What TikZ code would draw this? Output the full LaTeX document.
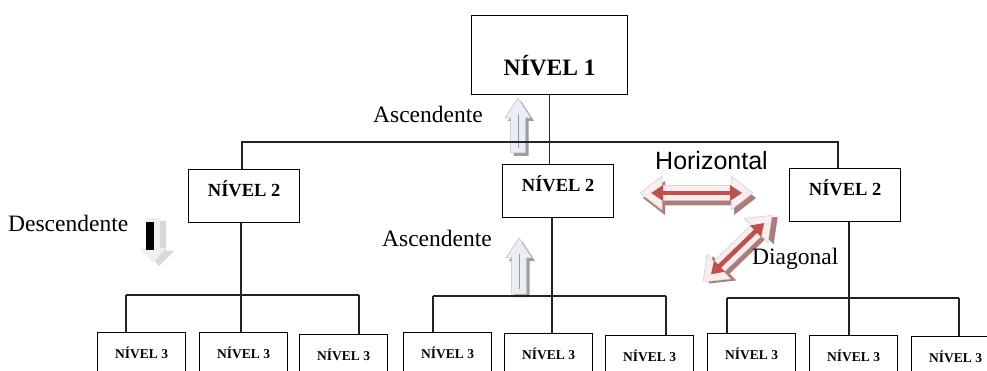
\documentclass[tikz,border=0pt]{standalone}
\usepackage{fontspec}
\setmainfont{Liberation Serif}
\newfontfamily\labelsans{Liberation Sans}
\usetikzlibrary{arrows.meta}
\definecolor{wireink}{RGB}{35,35,35}
\definecolor{flowred}{RGB}{192,80,77}
\definecolor{flowshade}{RGB}{172,124,122}
\definecolor{flowpale}{RGB}{247,238,237}
\definecolor{liftpale}{RGB}{234,238,244}
\definecolor{liftshade}{RGB}{155,157,163}
\definecolor{liftline}{RGB}{135,155,190}
\tikzset{
  box/.style={draw=black,line width=1.3pt,inner sep=0pt,fill=white,anchor=north west},
  lvlone/.style={box,minimum width=156pt,text height=60pt,text depth=19pt,font=\fontsize{23.5}{26}\selectfont\bfseries},
  lvltwo/.style={box,minimum width=111pt,text height=27pt,text depth=26pt,font=\fontsize{18.5}{21}\selectfont\bfseries},
  lvlthree/.style={box,minimum width=88pt,text height=26pt,text depth=22pt,font=\fontsize{13.5}{15}\selectfont\bfseries},
  wire/.style={draw=wireink,line width=1.2pt},
  tag/.style={inner sep=0pt,anchor=base west,font=\fontsize{23.5}{26}\selectfont},
  sanstag/.style={tag,font=\labelsans\fontsize{25}{28}\selectfont},
  % pale upward block arrow, tip at the origin
  pics/lift/.style={code={
    \fill[liftshade] (3,3) -- (16,23) -- (10.5,23) -- (10.5,{#1+3}) -- (-4.5,{#1+3}) -- (-4.5,23) -- (-10,23) -- cycle;
    \filldraw[fill=liftpale,draw=liftpale!80!black,line width=0.5pt] (0,0) -- (13,20) -- (7.5,20) -- (7.5,#1) -- (-7.5,#1) -- (-7.5,20) -- (-13,20) -- cycle;
    \draw[liftline,line width=0.8pt] (0,16) -- (0,{#1-5});
  }},
  % two-headed block arrow with a red arrow inside, left tip at the origin
  pics/twoway/.style={code={
    \begin{scope}[shift={(3,5)}]
      \fill[flowshade] (0,0) -- (22,-17) -- (22,-7.5) -- ({#1-22},-7.5) -- ({#1-22},-17) -- (#1,0)
        -- ({#1-22},17) -- ({#1-22},7.5) -- (22,7.5) -- (22,17) -- cycle;
    \end{scope}
    \filldraw[fill=flowpale,draw=flowpale!85!black,line width=0.5pt] (0,0) -- (22,-17) -- (22,-7.5) -- ({#1-22},-7.5) -- ({#1-22},-17) -- (#1,0)
        -- ({#1-22},17) -- ({#1-22},7.5) -- (22,7.5) -- (22,17) -- cycle;
    \draw[flowred,line width=4.5pt,{Triangle[length=12pt,width=15pt]}-{Triangle[length=12pt,width=15pt]}] (11,0) -- ({#1-11},0);
  }},
}

\begin{document}
\begin{tikzpicture}[x=1pt,y=-1pt]
\useasboundingbox (0,0) rectangle (987,371);
\clip (0,0) rectangle (987,371);
\fill[white] (0,0) rectangle (987,371);

% arrows and their labels
\path (518,98) pic {lift=55};
\path (519,238) pic {lift=56};
\fill[gray!30] (152,221) -- (166,221) -- (166,251) -- (174,251) -- (159,266) -- (145,251) -- (152,251) -- cycle;
\fill[gray!12] (146,218) -- (160,218) -- (160,248) -- (166,248) -- (153,263) -- (140,248) -- (146,248) -- cycle;
\fill[black] (146,222) rectangle (154,250);
\path (640,193) pic {twoway=113};
\path (703,282) pic[rotate=44] {twoway=96};

\node[tag] (ascup) at (373,123) {Ascendente};
\node[tag] (asclow) at (382,247) {Ascendente};
\node[tag] (desc) at (8,232) {Descendente};
\node[sanstag] (horiz) at (655,170) {Horizontal};
\node[tag] (diag) at (752,265) {Diagonal};

% hierarchy
\node[lvlone] (n1) at (471,15) {NÍVEL 1};
\node[lvltwo] (n2a) at (188,169) {NÍVEL 2};
\node[lvltwo] (n2b) at (502,164) {NÍVEL 2};
\node[lvltwo] (n2c) at (789,168) {NÍVEL 2};
\foreach \g/\i/\x/\y in {a/1/97/332,a/2/199/332,a/3/299/334,b/1/403/332,b/2/504/333,b/3/605/335,c/1/707/333,c/2/809/335,c/3/911/336}
  \node[lvlthree] (n3\g\i) at (\x,\y) {NÍVEL 3};

\coordinate (jl) at (242,142);
\coordinate (jr) at (838,142);
\draw[wire] (n1.south) -- (n1.south |- n2b.north);
\draw[wire] (jl |- n2a.north) -- (jl) -- (jr) -- (jr |- n2c.north);

\foreach \g/\i/\x/\y in {a/1/126/295,a/2/241/295,a/3/359/295,b/1/433/296,b/2/552/296,b/3/666/296,c/1/727/298,c/2/849/298,c/3/959/298} {
  \coordinate (d\g\i) at (\x,\y);
  \draw[wire] (d\g\i) -- (d\g\i |- n3\g\i.north);
}
\foreach \g in {a,b,c} {
  \draw[wire] (d\g1) -- (d\g3);
  \draw[wire] (d\g2 |- n2\g.south) -- (d\g2);
}
\end{tikzpicture}
\end{document}
